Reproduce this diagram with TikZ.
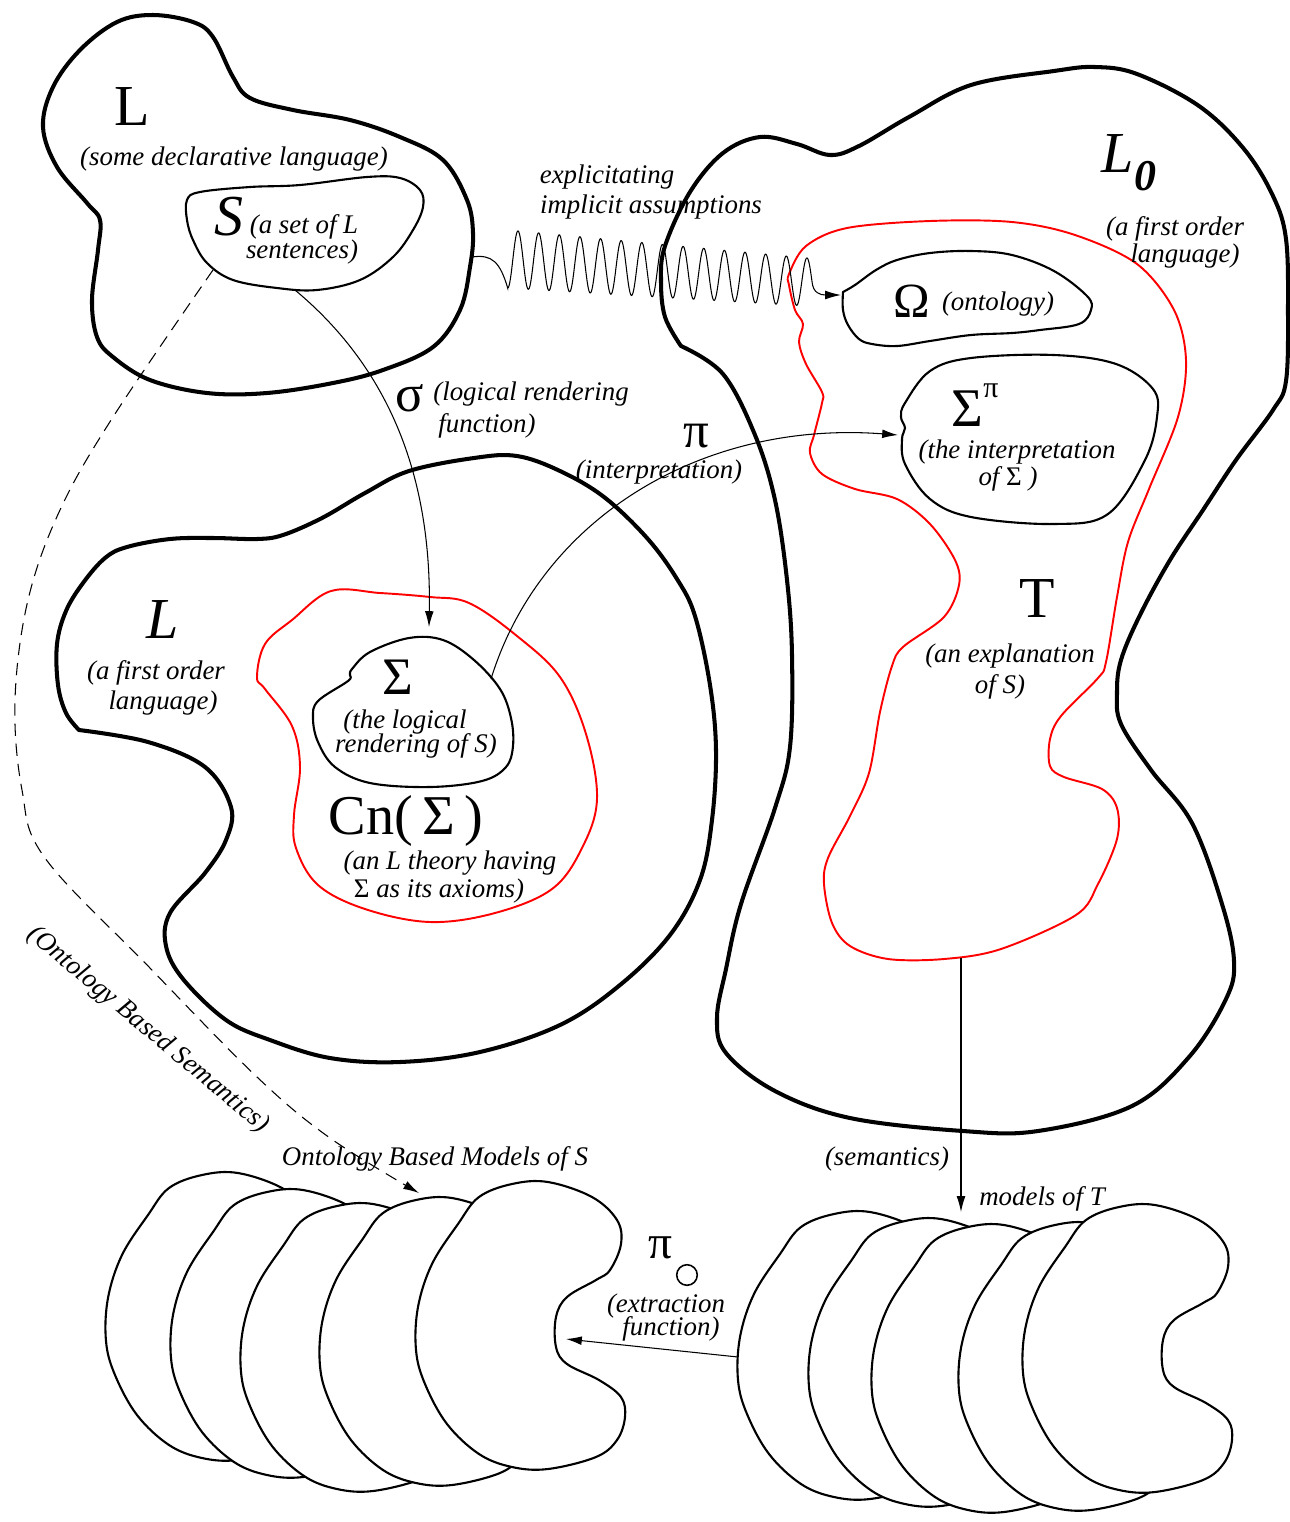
\documentclass[tikz,border=0pt]{standalone}
\usepackage{fontspec}
\setmainfont{Liberation Serif}
\usetikzlibrary{arrows.meta}
\newcommand\kidneyat[2]{\draw[kid, shift={(#1,#2)}] plot[smooth cycle, tension=0.6] coordinates {(1086,1220) (1119,1207) (1155,1205) (1199,1220) (1224,1243) (1228,1267) (1217,1293) (1203,1303) (1174,1320) (1163,1340) (1163,1370) (1174,1387) (1206,1403) (1228,1420) (1232,1440) (1224,1463) (1203,1480) (1155,1492) (1119,1490) (1086,1477) (1054,1447) (1032,1407) (1023,1373) (1025,1330) (1039,1287) (1065,1247)};}
\begin{document}
\begin{tikzpicture}[x=0.02cm,y=-0.02cm,
  thickblob/.style={line width=2.3pt, line join=round},
  blob/.style={line width=1.2pt, line join=round},
  kid/.style={line width=1.2pt, fill=white},
  redblob/.style={line width=1.1pt, draw=red},
  conn/.style={line width=0.6pt, -{Latex[length=9pt,width=5pt]}},
  dashconn/.style={line width=0.6pt, dash pattern=on 7pt off 4.5pt, -{Latex[length=9pt,width=5pt]}},
  lab/.style={font=\fontsize{15.3}{17}\selectfont\itshape, inner sep=0pt, anchor=base},
  bigup/.style={font=\fontsize{33}{36}\selectfont, inner sep=0pt, anchor=base},
  bigit/.style={font=\fontsize{33}{36}\selectfont\itshape, inner sep=0pt, anchor=base}]
\useasboundingbox (0,0) rectangle (1289,1522);

% ---------- big language regions ----------
\draw[thickblob] plot[smooth cycle, tension=0.6] coordinates {(43,127) (53,87) (80,50) (117,22) (153,15) (193,22) (213,37) (233,77) (250,98) (293,110) (350,120) (400,137) (443,160) (467,200) (473,233) (470,267) (460,310) (433,347) (383,370) (333,383) (267,393) (207,393) (150,380) (113,357) (97,337) (92,300) (98,250) (100,220) (87,203) (57,167)};

\draw[thickblob] plot[smooth, tension=0.6] coordinates {(79,730) (66,713) (58,685) (57,644) (66,611) (83,583) (105,558) (127,547) (170,539) (213,538) (257,539) (283,535) (322,518) (365,493) (409,471) (474,458) (517,456) (560,471) (604,497) (647,538) (677,579) (695,616) (710,685) (716,750) (712,820) (700,880) (670,935) (620,985) (560,1025) (480,1052) (400,1062) (330,1058) (270,1040) (226,1020) (183,979) (166,946) (170,913) (205,873) (226,840) (231,807) (205,767) (148,742) (79,730)} -- cycle;

\draw[thickblob] plot[smooth, tension=0.6] coordinates {(681,346) (665,317) (661,281) (665,246) (690,192) (723,153) (760,137) (797,144) (830,155) (859,146) (909,117) (971,85) (1054,71) (1095,67) (1137,74) (1199,106) (1244,149) (1273,196) (1286,239) (1288,310) (1286,381) (1273,410) (1236,460) (1203,510) (1170,560) (1140,615) (1121,660) (1117,693) (1121,724) (1151,770) (1192,823) (1222,904) (1234,961) (1226,999) (1189,1057) (1132,1106) (1038,1131) (963,1131) (850,1118) (775,1091) (726,1053) (717,1018) (726,969) (741,904) (775,808) (790,747) (792,655) (787,580) (775,500) (755,435) (723,374) (681,346)} -- cycle;

% ---------- red theories ----------
\draw[redblob] plot[smooth cycle, tension=0.6] coordinates {(257,677) (265,644) (292,620) (331,591) (380,593) (430,597) (469,603) (517,636) (560,677) (586,734) (597,799) (582,848) (552,889) (495,913) (430,922) (365,909) (318,885) (296,848) (294,815) (300,767) (292,726) (265,689)};

\draw[redblob] plot[smooth cycle, tension=0.55] coordinates {(789,274) (806,246) (847,228) (930,221) (1012,222) (1075,235) (1137,264) (1174,310) (1186,360) (1178,417) (1149,489) (1128,542) (1117,597) (1106,662) (1098,678) (1061,716) (1050,739) (1050,766) (1064,777) (1102,789) (1117,808) (1117,839) (1098,884) (1076,915) (1001,949) (944,959) (888,959) (850,946) (832,923) (824,884) (828,858) (850,816) (869,773) (880,712) (892,666) (903,647) (944,617) (959,585) (955,560) (930,524) (897,499) (855,489) (822,474) (810,453) (814,435) (822,403) (822,392) (806,364) (799,342) (803,324) (795,310) (789,285)};

% ---------- inner sets ----------
\draw[blob] plot[smooth cycle, tension=0.6] coordinates {(187,200) (200,192) (250,187) (300,185) (367,177) (400,178) (420,190) (423,207) (413,230) (393,257) (360,280) (317,290) (277,288) (233,280) (207,263) (193,240) (187,220)};

\draw[blob] plot[smooth cycle, tension=0.6] coordinates {(318,701) (348,681) (350,675) (352,669) (370,652) (409,638) (443,640) (474,660) (500,689) (511,718) (513,746) (506,767) (482,781) (430,787) (370,783) (335,767) (318,742) (313,718)};

\draw[blob] plot[smooth, tension=0.6] coordinates {(843,292) (855,285) (876,270) (897,260) (930,253) (971,251) (1012,255) (1054,271) (1087,296) (1091,310) (1079,324) (1040,330) (1012,333) (971,335) (930,341) (897,346) (872,344) (859,339) (848,325) (843,310) (843,292)} -- cycle;

\draw[blob] plot[smooth cycle, tension=0.6] coordinates {(902,439) (905,428) (901,417) (905,403) (930,371) (971,358) (1054,355) (1116,364) (1153,389) (1157,417) (1145,460) (1108,514) (1054,524) (971,517) (930,499) (905,464)};

% ---------- model stacks ----------
\kidneyat{-285}{7}
\kidneyat{-214}{14}
\kidneyat{-151}{20}
\kidneyat{-64}{18}
\kidneyat{0}{0}

\kidneyat{-917}{-32}
\kidneyat{-852}{-15}
\kidneyat{-782}{-1}
\kidneyat{-703}{-7}
\kidneyat{-607}{-23}

% ---------- connector end points ----------
\coordinate (wstart) at (472,257);
\coordinate (omegain) at (841,295);
\coordinate (sout) at (295,290);
\coordinate (sigin) at (429,627);
\coordinate (sigout) at (491,679);
\coordinate (sigpin) at (898,435);
\coordinate (dstart) at (213,270);
\coordinate (dend) at (419,1193);
\coordinate (tout) at (961,958);
\coordinate (modin) at (961,1212);
\coordinate (extout) at (738,1357);
\coordinate (extin) at (566,1339);

% ---------- connectors ----------
\draw[conn] (wstart) .. controls (492,254) and (500,262) .. (507.7,288)
  --plot[domain=507.7:812, samples=600, smooth] (\x, {259+0.0768*(\x-507.7)-(29-0.0167*(\x-507.7))*cos(((\x-518)/20.64)*360)})
  .. controls (813,293) and (820,295) .. (omegain);

\draw[conn] (sout) .. controls (385,365) and (432,470) .. (sigin);
\draw[conn] (sigout) .. controls (540,520) and (700,420) .. (sigpin);
\draw[dashconn] plot[smooth, tension=0.6] coordinates {(dstart) (113,417) (60,510) (28,600) (15,700) (22,790) (45,858) (150,968) (257,1077) (330,1138) (dend)};
\draw[conn] (tout) -- (modin);
\draw[conn] (extout) -- (extin);

% ---------- labels ----------
\node[bigup] (tL1) at (132,125) {L};
\node[lab] (t1) at (234,165) {(some declarative language)};
\node[bigit] (tS) at (229,235) {S};
\node[lab] (t2) at (304,233) {(a set of L};
\node[lab] (t3) at (302,258) {sentences)};
\node[lab] (t4) at (607,183) {explicitating};
\node[lab] (t5) at (651,213) {implicit assumptions};

\node[bigup, font=\fontsize{30}{34}\selectfont] (tsigma) at (410,411) {σ};
\node[lab] (t6) at (531,400) {(logical rendering};
\node[lab] (t7) at (487,432) {function)};
\node[bigup, font=\fontsize{29}{34}\selectfont] (tpi) at (696,447) {π};
\node[lab] (t8) at (659,478) {(interpretation)};

\node[bigit] (tL0) at (1118,172) {L};
\node[inner sep=0pt, anchor=base, font=\fontsize{25}{28}\selectfont\bfseries\itshape] (tL0s) at (1145,190) {0};
\node[lab] (t9) at (1175,235) {(a first order};
\node[lab] (t10) at (1185,262) {language)};
\node[bigup, font=\fontsize{28}{32}\selectfont] (tOm) at (912,317) {Ω};
\node[lab] (t11) at (998,310) {(ontology)};
\node[bigup, font=\fontsize{31}{34}\selectfont] (tSP) at (967,426) {Σ};
\node[bigup, font=\fontsize{17}{20}\selectfont] (tSPp) at (991,397) {π};
\node[lab] (t12) at (1017,458) {(the interpretation};
\node[lab] (t13) at (1008,485) {of {\upshape Σ} )};
\node[bigup] (tT) at (1037,617) {T};
\node[lab] (t14) at (1010,662) {(an explanation};
\node[lab] (t15) at (1000,693) {of S)};

\node[bigit] (tL2) at (163,638) {L};
\node[lab] (t16) at (156,679) {(a first order};
\node[lab] (t17) at (163,709) {language)};
\node[bigup, font=\fontsize{30}{34}\selectfont] (tSig) at (398,694) {Σ};
\node[lab] (t18) at (405,728) {(the logical};
\node[lab] (t19) at (416,752) {rendering of S)};
\node[bigup, font=\fontsize{32}{36}\selectfont] (tCn) at (406,834) {Cn(\,Σ\,)};
\node[lab] (t20) at (450,869) {(an L theory having};
\node[lab] (t21) at (439,897) {{\upshape Σ} as its axioms)};

\node[lab] (t22) at (887,1165) {(semantics)};
\node[lab] (t23) at (1042,1205) {models of T};
\node[lab] (t24) at (435,1165) {Ontology Based Models of S};
\node[bigup, font=\fontsize{27}{30}\selectfont] (tpio) at (660,1258) {π};
\node[draw, circle, line width=0.9pt, inner sep=0pt, minimum size=13\pgflinewidth] (tcirc) at (687,1275) {};
\node[lab] (t25) at (666,1312) {(extraction};
\node[lab] (t26) at (671,1335) {function)};
\node[lab, anchor=center, rotate=-40] (t27) at (148,1030) {(Ontology Based Semantics)};
\end{tikzpicture}
\end{document}
